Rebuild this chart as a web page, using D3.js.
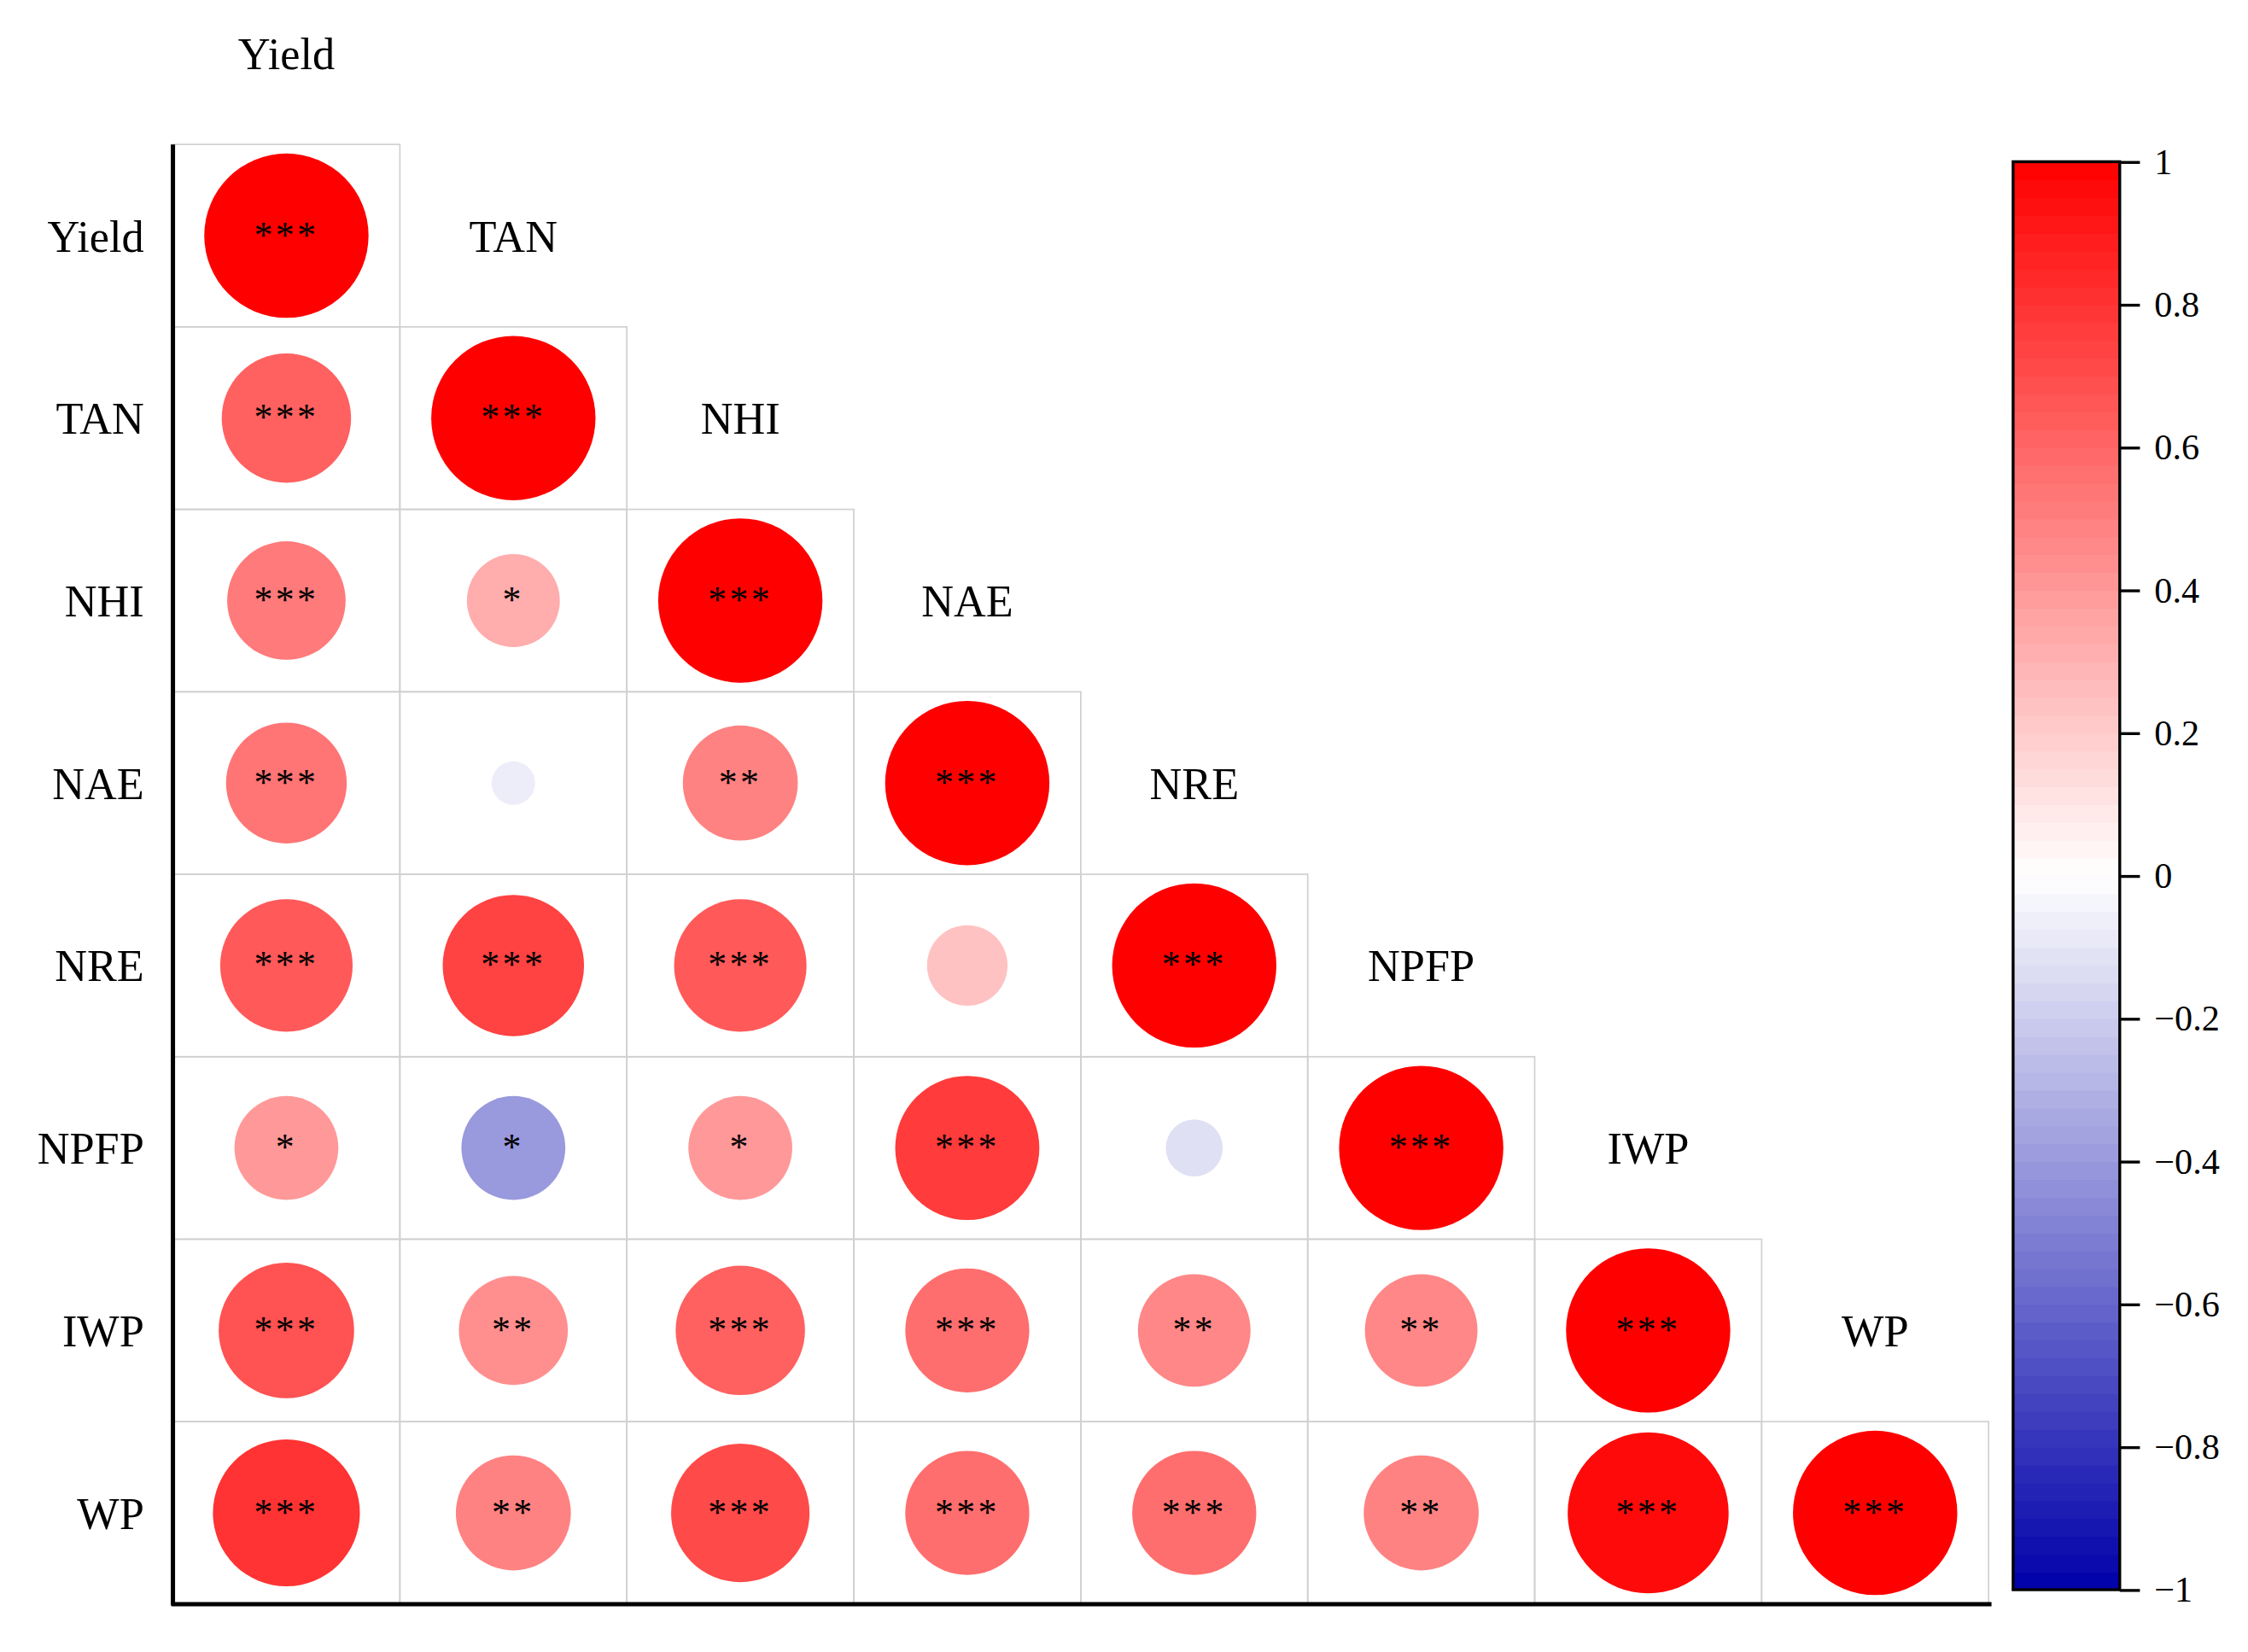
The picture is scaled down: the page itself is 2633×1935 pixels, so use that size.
<!DOCTYPE html>
<html><head><meta charset="utf-8">
<script src="https://cdn.jsdelivr.net/npm/d3@7"></script>
<style>body{margin:0;background:#fff}</style></head>
<body><svg id="c" width="2633" height="1935" viewBox="0 0 1560 1146"></svg>
<script>
const vars = ["Yield","TAN","NHI","NAE","NRE","NPFP","IWP","WP"];
// lower-triangle correlations, row i, columns 0..i
const corr = [
 [1],
 [0.62,1],
 [0.52,0.32,1],
 [0.54,-0.07,0.49,1],
 [0.65,0.74,0.65,0.24,1],
 [0.40,-0.40,0.40,0.77,-0.12,1],
 [0.68,0.44,0.62,0.57,0.47,0.47,1],
 [0.80,0.49,0.71,0.57,0.57,0.49,0.96,1]
];
const sig = [
 ["***"],
 ["***","***"],
 ["***","*","***"],
 ["***","","**","***"],
 ["***","***","***","","***"],
 ["*","*","*","***","","***"],
 ["***","**","***","***","**","**","***"],
 ["***","**","***","***","***","**","***","***"]
];
const cbTicks = [1,0.8,0.6,0.4,0.2,0,-0.2,-0.4,-0.6,-0.8,-1];

const svg = d3.select("#c");
const font = "Liberation Serif, Times New Roman, serif";
const x = d3.scaleBand().domain(vars).range([120,1380]);
const y = d3.scaleBand().domain(vars).range([100,1113]);
const r = d3.scaleSqrt().domain([0,1]).range([0,57]);
const color = d3.scaleLinear().domain([-1,0,1]).range(["#0000aa","#ffffff","#ff0000"]);

const cells = [];
corr.forEach((row,i)=>row.forEach((v,j)=>cells.push({i,j,v,s:sig[i][j]})));

svg.selectAll("rect.cell").data(cells).join("rect")
 .attr("x",d=>x(vars[d.j])).attr("y",d=>y(vars[d.i]))
 .attr("width",x.bandwidth()).attr("height",y.bandwidth())
 .attr("fill","none").attr("stroke","#d0d0d0").attr("stroke-width",1);

svg.selectAll("circle").data(cells).join("circle")
 .attr("cx",d=>x(vars[d.j])+x.bandwidth()/2).attr("cy",d=>y(vars[d.i])+y.bandwidth()/2)
 .attr("r",d=>r(Math.abs(d.v))).attr("fill",d=>color(d.v));

svg.selectAll("text.sig").data(cells).join("text")
 .attr("x",d=>x(vars[d.j])+x.bandwidth()/2).attr("y",d=>y(vars[d.i])+y.bandwidth()/2+8)
 .attr("text-anchor","middle").attr("font-family",font).attr("font-size",26)
 .attr("letter-spacing",2).text(d=>d.s);

// row labels
svg.selectAll("text.rl").data(vars).join("text")
 .attr("x",100).attr("y",d=>y(d)+y.bandwidth()/2+11).attr("text-anchor","end")
 .attr("font-family",font).attr("font-size",31).text(d=>d);
// column labels (diagonal above)
svg.selectAll("text.cl").data(vars).join("text")
 .attr("x",d=>x(d)+x.bandwidth()/2)
 .attr("y",(d,i)=> i===0 ? 48 : y(vars[i-1])+y.bandwidth()/2+11)
 .attr("text-anchor","middle").attr("font-family",font).attr("font-size",31).text(d=>d);

// axes lines
svg.append("line").attr("x1",120).attr("x2",120).attr("y1",100).attr("y2",1114).attr("stroke","#000").attr("stroke-width",3);
svg.append("line").attr("x1",119).attr("x2",1382).attr("y1",1113).attr("y2",1113).attr("stroke","#000").attr("stroke-width",3);

// colorbar
const cy = d3.scaleLinear().domain([-1,1]).range([1103,112]);
const nb = 80, steps = d3.range(nb).map(k=>-1+2*k/nb);
svg.selectAll("rect.cb").data(steps).join("rect")
 .attr("x",1397).attr("width",74)
 .attr("y",d=>cy(d+2/nb)).attr("height",d=>cy(d)-cy(d+2/nb)+0.5)
 .attr("fill",d=>color(d+1/nb));
svg.append("rect").attr("x",1397).attr("y",112).attr("width",74).attr("height",991)
 .attr("fill","none").attr("stroke","#000").attr("stroke-width",2);
const ax = svg.append("g").attr("transform","translate(1471,0)")
 .call(d3.axisRight(cy).tickValues(cbTicks).tickSize(14).tickPadding(10).tickFormat(d3.format("")));
ax.select(".domain").remove();
ax.selectAll("line").attr("stroke-width",2);
ax.selectAll("text").attr("font-family",font).attr("font-size",25).attr("fill","#000");
</script></body></html>
